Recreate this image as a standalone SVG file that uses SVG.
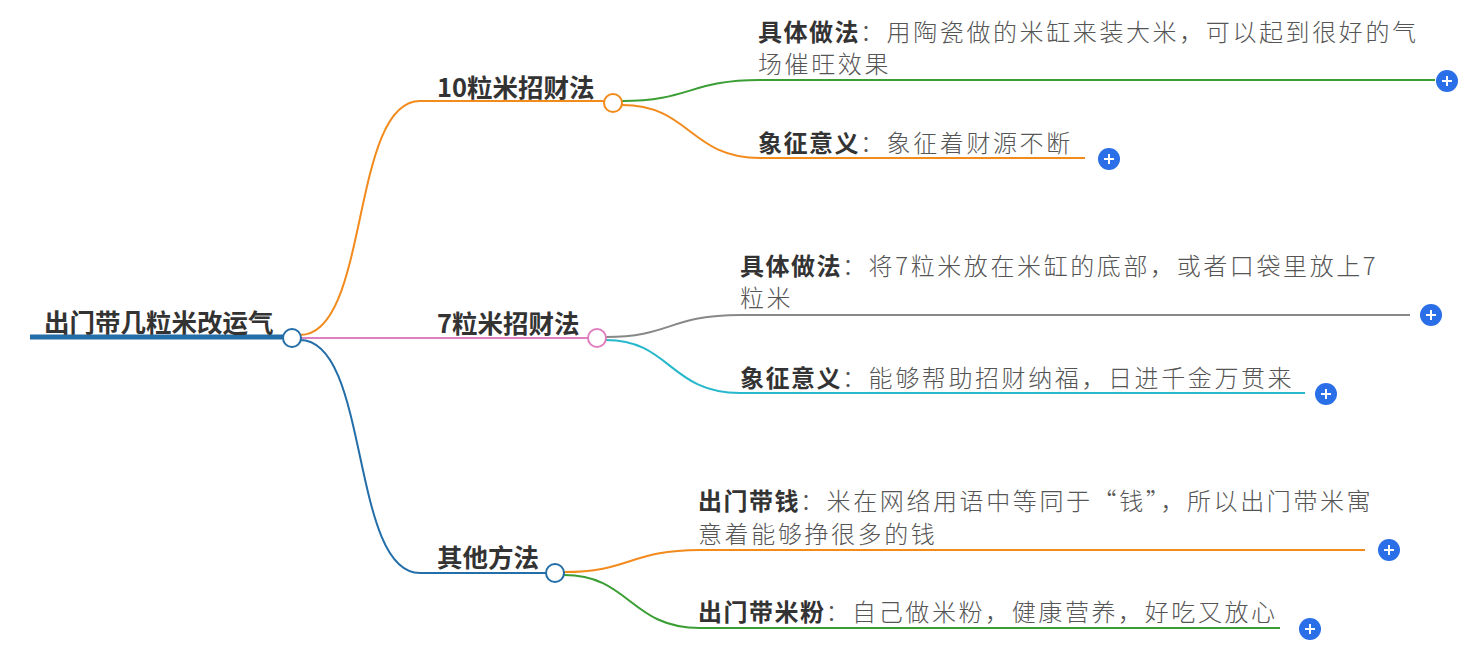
<svg xmlns="http://www.w3.org/2000/svg" width="1483" height="649" viewBox="0 0 1483 649">
<style>
text{font-family:"Noto Sans CJK SC","Noto Sans",sans-serif;fill:#333}
.t{font-size:25.5px;font-weight:700}
.d{font-size:24px;letter-spacing:2.6px;font-weight:300;fill:#555}
.d tspan.b{font-weight:700;fill:#333;letter-spacing:1.5px}
.c{fill:none;stroke-width:2}
.pl circle{fill:#2a6fe8}
.pl path{stroke:#fff;stroke-width:2}
</style>
<rect width="1483" height="649" fill="#fff"/>
<g id="connectors">
<path d="M30 337H292" stroke="#236ea8" stroke-width="5" fill="none"/>
<path class="c" stroke="#f28a1c" d="M300 335C370 335 350 101 420 101H605"/>
<path class="c" stroke="#e07fbf" d="M300 338H588"/>
<path class="c" stroke="#236ea8" d="M300 340C370 340 350 573 420 573H546"/>
<path class="c" stroke="#3a9e34" d="M622 101C690 101 690 80 760 80H1435"/>
<path class="c" stroke="#f28a1c" d="M622 105C690 105 690 158 760 158H1085"/>
<path class="c" stroke="#888" d="M606 337C670 337 670 315 740 315H1410"/>
<path class="c" stroke="#27b8cc" d="M606 340C670 340 670 393 740 393H1305"/>
<path class="c" stroke="#f28a1c" d="M564 572C630 572 630 550 700 550H1365"/>
<path class="c" stroke="#3a9e34" d="M564 575C630 575 630 628 700 628H1280"/>
</g>
<g id="root"><text class="t" x="44" y="332">出门带几粒米改运气</text><circle cx="292" cy="338" r="9" fill="#fff" stroke="#236ea8" stroke-width="2"/></g>
<g id="b1"><text class="t" x="437" y="97">10粒米招财法</text><circle cx="613" cy="103" r="9" fill="#fff" stroke="#f28a1c" stroke-width="2"/></g>
<g id="b2"><text class="t" x="437" y="333">7粒米招财法</text><circle cx="597" cy="338" r="9" fill="#fff" stroke="#e07fbf" stroke-width="2"/></g>
<g id="b3"><text class="t" x="437" y="567">其他方法</text><circle cx="555" cy="573" r="9" fill="#fff" stroke="#236ea8" stroke-width="2"/></g>
<g id="n1"><text class="d" x="758" y="41"><tspan class="b">具体做法</tspan>：用陶瓷做的米缸来装大米，可以起到很好的气</text><text class="d" x="758" y="73">场催旺效果</text><g class="pl"><circle cx="1447" cy="81" r="11"/><path d="M1442 81h10M1447 76v10"/></g></g>
<g id="n2"><text class="d" x="758" y="152"><tspan class="b">象征意义</tspan>：象征着财源不断</text><g class="pl"><circle cx="1109" cy="159" r="11"/><path d="M1104 159h10M1109 154v10"/></g></g>
<g id="n3"><text class="d" x="740" y="275"><tspan class="b">具体做法</tspan>：将7粒米放在米缸的底部，或者口袋里放上7</text><text class="d" x="740" y="307">粒米</text><g class="pl"><circle cx="1431" cy="315" r="11"/><path d="M1426 315h10M1431 310v10"/></g></g>
<g id="n4"><text class="d" x="740" y="387"><tspan class="b">象征意义</tspan>：能够帮助招财纳福，日进千金万贯来</text><g class="pl"><circle cx="1326" cy="394" r="11"/><path d="M1321 394h10M1326 389v10"/></g></g>
<g id="n5"><text class="d" x="698" y="510"><tspan class="b">出门带钱</tspan>：米在网络用语中等同于“钱”，所以出门带米寓</text><text class="d" x="698" y="543">意着能够挣很多的钱</text><g class="pl"><circle cx="1389" cy="550" r="11"/><path d="M1384 550h10M1389 545v10"/></g></g>
<g id="n6"><text class="d" x="698" y="621"><tspan class="b">出门带米粉</tspan>：自己做米粉，健康营养，好吃又放心</text><g class="pl"><circle cx="1310" cy="629" r="11"/><path d="M1305 629h10M1310 624v10"/></g></g>
</svg>
